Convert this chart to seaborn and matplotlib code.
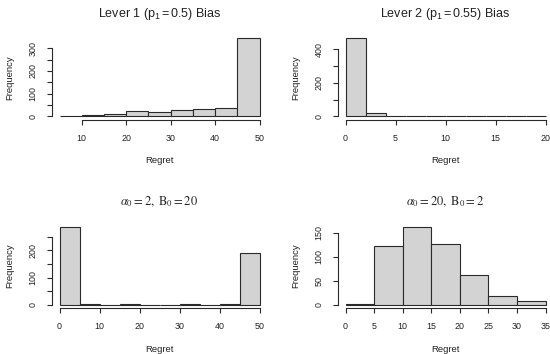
import matplotlib
matplotlib.use("Agg")
import matplotlib.pyplot as plt
import seaborn as sns

# histogram bins and counts
lever1_edges = [5, 10, 15, 20, 25, 30, 35, 40, 45, 50]
lever1_counts = [2, 5, 12, 22, 18, 28, 32, 35, 344]

lever2_edges = [0, 2, 4, 6, 8, 10, 12, 14, 16, 18, 20]
lever2_counts = [466, 18, 4, 3, 2, 0, 0, 0, 0, 0]

priorA_edges = [0, 5, 10, 15, 20, 25, 30, 35, 40, 45, 50]
priorA_counts = [287, 3, 1, 3, 1, 0, 3, 0, 3, 192]

priorB_edges = [0, 5, 10, 15, 20, 25, 30, 35]
priorB_counts = [2, 122, 163, 127, 62, 18, 9]

titles = [r"Lever 1 ($\mathregular{p_1 = 0.5}$) Bias",
          r"Lever 2 ($\mathregular{p_1 = 0.55}$) Bias",
          r"$\alpha_0 = 2,\ \mathrm{B}_0 = 20$",
          r"$\alpha_0 = 20,\ \mathrm{B}_0 = 2$"]

sns.set_style("white")
plt.rcParams["font.family"] = ["Liberation Sans", "DejaVu Sans"]
plt.rcParams["mathtext.fontset"] = "stix"

W, H = 550, 354
fig = plt.figure(figsize=(W / 100, H / 100), dpi=100)

# (edges, counts, xticks, yticks, labelled yticks) per panel
panels = [
    (lever1_edges, lever1_counts, [10, 20, 30, 40, 50], [0, 50, 100, 150, 200, 250, 300], [0, 100, 200, 300]),
    (lever2_edges, lever2_counts, [0, 5, 10, 15, 20], [0, 100, 200, 300, 400], [0, 200, 400]),
    (priorA_edges, priorA_counts, [0, 10, 20, 30, 40, 50], [0, 50, 100, 150, 200, 250], [0, 100, 200]),
    (priorB_edges, priorB_counts, [0, 5, 10, 15, 20, 25, 30, 35], [0, 50, 100, 150], [0, 50, 100, 150]),
]

lefts = [51.5, 337.5]
bottoms = [119.5, 308]  # pixel y of axes bottom (from top)
aw, ah = 216, 84.5

for i, (edges, counts, xt, yt, ylab) in enumerate(panels):
    col, row = i % 2, i // 2
    ax = fig.add_axes([lefts[col] / W, (H - bottoms[row]) / H, aw / W, ah / H])
    sns.histplot(x=edges[:-1], weights=counts, bins=edges, ax=ax,
                 color="#D3D3D3", edgecolor="#2a2a2a", linewidth=0.8, alpha=1)
    span = edges[-1] - edges[0]
    ax.set_xlim(edges[0] - 0.04 * span, edges[-1] + 0.04 * span)
    top = max(counts)
    ax.set_ylim(-0.04 * top, 1.04 * top)
    ax.set_xticks(xt)
    ax.set_xticklabels([str(v) for v in xt])
    ax.set_yticks(yt)
    ax.set_yticklabels([str(v) if v in ylab else "" for v in yt],
                       rotation=90, va="center")
    for s in ["top", "right"]:
        ax.spines[s].set_visible(False)
    ax.spines["bottom"].set_bounds(xt[0], xt[-1])
    ax.spines["left"].set_bounds(yt[0], yt[-1])
    for s in ["bottom", "left"]:
        ax.spines[s].set_linewidth(0.8)
        ax.spines[s].set_color("#2a2a2a")
    ax.tick_params(direction="out", length=3.6, width=0.8, color="#2a2a2a",
                   labelsize=6.4, labelcolor="#222222", pad=6.5,
                   bottom=True, left=True)
    ax.set_xlabel("Regret", fontsize=6.8, labelpad=10, color="#222222")
    ax.set_ylabel("Frequency", fontsize=6.8, labelpad=10, color="#222222")
    ax.set_title(titles[i], fontsize=9, pad=13, color="#222222")

fig.savefig("out.png", dpi=100)
